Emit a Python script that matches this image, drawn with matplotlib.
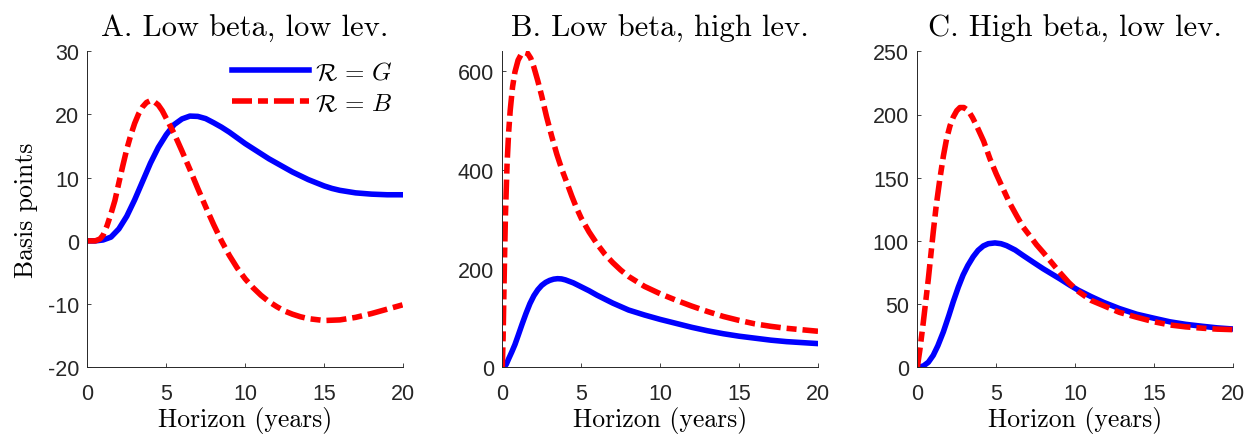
import matplotlib
matplotlib.use("Agg")
import matplotlib.pyplot as plt

plt.rcParams["mathtext.fontset"] = "cm"
plt.rcParams["axes.unicode_minus"] = False
plt.rcParams["lines.scale_dashes"] = False
plt.rcParams["font.family"] = ["Liberation Sans", "DejaVu Sans"]

# panel A: low beta, low leverage
a_good_x = [0, 0.5, 1.0, 1.5, 2.0, 2.5, 3.0, 3.5, 4.0, 4.5, 5.0, 5.5, 6.0, 6.5, 7.0, 7.5,
            8.0, 8.5, 9.0, 9.5, 10, 10.5, 11, 11.5, 12, 12.5, 13, 13.5, 14, 14.5, 15, 15.5,
            16, 17, 18, 19, 20]
a_good_y = [0, 0, 0.15, 0.6, 1.9, 3.9, 6.5, 9.4, 12.3, 14.8, 16.8, 18.4, 19.3, 19.75, 19.7, 19.35,
            18.7, 18.0, 17.2, 16.3, 15.4, 14.6, 13.8, 13.0, 12.3, 11.6, 10.9, 10.3, 9.7, 9.2, 8.7, 8.3,
            8.0, 7.6, 7.4, 7.3, 7.3]
a_bad_x = [0, 0.5, 0.8, 1.0, 1.25, 1.5, 1.75, 2.0, 2.25, 2.5, 2.75, 3.0, 3.25, 3.5, 3.75, 4.0,
           4.25, 4.5, 4.75, 5.0, 5.5, 6.0, 6.5, 7.0, 7.5, 8.0, 8.5, 9.0, 9.5, 10, 10.5, 11,
           11.5, 12, 12.5, 13, 13.5, 14, 15, 16, 17, 18, 19, 20]
a_bad_y = [0, 0, 0.3, 0.9, 2.4, 4.3, 6.4, 9.2, 11.9, 14.5, 16.7, 18.6, 20.1, 21.2, 21.9, 22.2,
           22.0, 21.5, 20.6, 19.4, 17.0, 14.2, 11.3, 8.3, 5.4, 2.6, 0.0, -2.3, -4.3, -6.0, -7.4, -8.6,
           -9.6, -10.4, -11.1, -11.6, -12.0, -12.3, -12.6, -12.5, -12.1, -11.5, -10.8, -10.1]

# panel B: low beta, high leverage
b_good_x = [0, 0.1, 0.25, 0.4, 0.6, 0.8, 1.0, 1.25, 1.5, 1.75, 2.0, 2.25, 2.5, 2.75, 3.0, 3.25,
            3.5, 3.75, 4.0, 4.5, 5.0, 5.5, 6.0, 6.5, 7.0, 7.5, 8.0, 9.0, 10, 11, 12, 13, 14, 15,
            16, 17, 18, 19, 20]
b_good_y = [0, 0, 6, 17, 31, 46, 64, 87, 109, 129, 145, 157, 166, 172, 176, 178.5,
            179.5, 179, 177, 171, 163, 155, 146, 138, 130, 123, 116, 106, 97, 89, 81, 74, 68, 63,
            59, 55, 52, 50, 48]
b_bad_x = [0, 0.05, 0.1, 0.15, 0.2, 0.3, 0.4, 0.5, 0.65, 0.8, 1.0, 1.2, 1.4, 1.6, 1.8, 2.0,
           2.25, 2.5, 2.8, 3.13, 3.45, 3.77, 4.1, 4.4, 4.7, 5.0, 5.5, 6.0, 6.5, 7.0, 7.5,
           8.0, 9.0, 10, 11, 12, 13, 14, 15, 16, 17, 18, 19, 20]
b_bad_y = [0, 60, 150, 235, 310, 410, 475, 520, 568, 598, 622, 634, 638, 636, 626, 608,
           580, 549, 508, 468, 432, 401, 373, 347, 323, 302, 274, 250, 229, 212, 197,
           184, 164, 149, 136, 124, 113, 103, 95, 88, 83, 79, 76, 73]

# panel C: high beta, low leverage
c_good_x = [0, 0.38, 0.7, 1.01, 1.3, 1.65, 2.0, 2.28, 2.6, 2.9, 3.2, 3.54, 3.85, 4.18, 4.5,
            4.92, 5.3, 5.65, 6.2, 6.7, 7.3, 7.97, 8.5, 9.03, 9.66, 10.2, 11, 11.8, 12.8,
            13.9, 15, 16, 17, 18.1, 19, 20]
c_good_y = [0, 1, 4, 9.5, 17, 28, 41, 52, 63.5, 73, 80.5, 87.5, 92.5, 96, 97.8,
            98.4, 97.8, 96.3, 92.8, 88.5, 83.5, 78, 74, 70, 65, 61, 56, 51.4, 46.5,
            42, 38.8, 36, 34, 32.4, 31.2, 30.3]
c_bad_x = [0, 0.17, 0.38, 0.7, 1.01, 1.2, 1.43, 1.65, 1.86, 2.07, 2.28, 2.5, 2.7, 2.95, 3.23,
           3.5, 3.76, 4.2, 4.6, 5.0, 5.44, 5.85, 6.29, 6.7, 7.13, 7.55, 7.97, 8.5, 9.03,
           9.6, 10.2, 11, 11.8, 12.8, 13.9, 15, 16, 17, 18.1, 19, 20]
c_bad_y = [0, 14.5, 35.6, 70, 107, 128, 149, 167, 181, 191, 198, 203, 205.5, 205.5, 203,
           197.5, 191, 179, 165, 153, 141, 130, 120, 111, 104, 97, 91, 83, 75,
           67, 60, 53, 48.8, 43.5, 39.6, 36, 33.5, 32, 30.9, 30.2, 29.8]

titles = ["A. Low beta, low lev.", "B. Low beta, high lev.", "C. High beta, low lev."]
y_limits = [(-20, 30), (0, 640), (0, 250)]
y_ticks = [[-20, -10, 0, 10, 20, 30], [0, 200, 400, 600], [0, 50, 100, 150, 200, 250]]
x_ticks = [0, 5, 10, 15, 20]

series = [(a_good_x, a_good_y, a_bad_x, a_bad_y),
          (b_good_x, b_good_y, b_bad_x, b_bad_y),
          (c_good_x, c_good_y, c_bad_x, c_bad_y)]

fig = plt.figure(figsize=(12.48, 4.35), dpi=100)
lefts = [87.3 / 1248, 502.3 / 1248, 917.3 / 1248]
gray = "#262626"

for i, (gx, gy, bx, by) in enumerate(series):
    ax = fig.add_axes([lefts[i], 66.7 / 435, 315.7 / 1248, 316 / 435])
    ax.plot(gx, gy, color="blue", lw=4, solid_joinstyle="round",
            label=r"$\mathcal{R}\,=\,G$")
    ax.plot(bx, by, color="red", lw=4, dashes=(14.4, 4.3, 7.2, 4.3),
            dash_joinstyle="round", label=r"$\mathcal{R}\,=\,B$")
    ax.set_xlim(0, 20)
    ax.set_ylim(*y_limits[i])
    ax.set_xticks(x_ticks)
    ax.set_yticks(y_ticks[i])
    ax.spines["top"].set_visible(False)
    ax.spines["right"].set_visible(False)
    for s in ("left", "bottom"):
        ax.spines[s].set_color(gray)
        ax.spines[s].set_linewidth(0.7)
    ax.tick_params(direction="in", length=3, width=0.6, colors=gray, labelsize=15.5)
    ax.tick_params(axis="x", pad=11)
    ax.tick_params(axis="y", pad=6)
    ax.set_title(titles[i], family="cmr10", fontsize=22, pad=11)
    ax.set_xlabel("Horizon (years)", family="cmr10", fontsize=18.5, labelpad=2)
    if i == 0:
        ax.set_ylabel("Basis points", family="cmr10", fontsize=18.5, labelpad=7)
        ax.legend(loc="upper right", bbox_to_anchor=(1.0, 1.005), frameon=False,
                  fontsize=18, handlelength=3.1, handletextpad=0.25,
                  labelspacing=0.3, borderaxespad=0.0)

fig.savefig("out.png", dpi=100)
